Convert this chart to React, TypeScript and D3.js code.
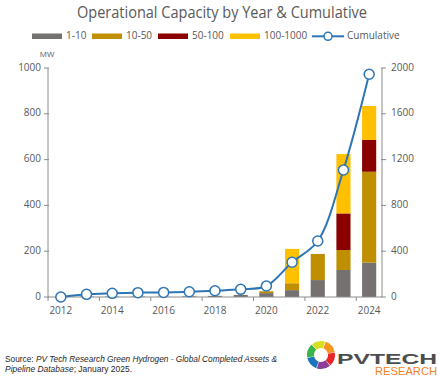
import React from "react";
import * as d3 from "d3";

const years = [2012, 2013, 2014, 2015, 2016, 2017, 2018, 2019, 2020, 2021, 2022, 2023, 2024];
const s1to10 = [0, 2, 2, 2, 1, 3, 5, 9, 17, 30, 74, 118, 150];
const s10to50 = [0, 0, 0, 0, 0, 0, 0, 0, 8, 30, 114, 87, 397];
const s50to100 = [0, 0, 0, 0, 0, 0, 0, 0, 0, 0, 0, 160, 139];
const s100to1000 = [0, 0, 0, 0, 0, 0, 0, 0, 0, 150, 0, 259, 148];
const cumulative = [0, 23, 32, 38, 40, 46, 55, 67, 96, 303, 489, 1109, 1945];
const seriesNames = ["1-10", "10-50", "50-100", "100-1000"];
const seriesColors = ["#767171", "#BF8F00", "#8B0000", "#FFC000"];
const leftTicks = [0, 200, 400, 600, 800, 1000];
const rightTicks = [0, 400, 800, 1200, 1600, 2000];
const xLabelYears = [2012, 2014, 2016, 2018, 2020, 2022, 2024];

const W = 438, H = 378;
const left = 48, right = 382, top = 68, bottom = 297;
const axisColor = "#8c8c8c";
const textColor = "#595959";
const font = "'Open Sans', sans-serif";
const lineBlue = "#2E75B6";

export default function App() {
  const x = d3.scaleBand<number>().domain(years).range([left, right]).paddingInner(0.45).paddingOuter(0.225);
  const yL = d3.scaleLinear().domain([0, 1000]).range([bottom, top]);
  const yR = d3.scaleLinear().domain([0, 2000]).range([bottom, top]);

  const table = years.map((yr, i) => ({
    year: yr,
    "1-10": s1to10[i],
    "10-50": s10to50[i],
    "50-100": s50to100[i],
    "100-1000": s100to1000[i],
  }));
  const stacked = d3.stack<any>().keys(seriesNames)(table);

  const cx = (yr: number) => (x(yr) as number) + x.bandwidth() / 2;
  const line = d3
    .line<number>()
    .x((_, i) => cx(years[i]))
    .y((d) => yR(d))
    .curve(d3.curveCatmullRom.alpha(0.5));

  const step = x.step();
  const xTicks = d3.range(0, years.length + 1, 2).map((k) => left + k * step);

  const legendItems = [
    { x: 32, label: "1-10", color: seriesColors[0] },
    { x: 92, label: "10-50", color: seriesColors[1] },
    { x: 158, label: "50-100", color: seriesColors[2] },
    { x: 230, label: "100-1000", color: seriesColors[3] },
  ];

  const logoArc = d3.arc<any>();
  const logoColors = ["#F7941D", "#E8262A", "#8E3E97", "#1C75BC", "#39B54A", "#D7DF23"];
  const logoSegs = logoColors.map((c, i) => ({
    color: c,
    path: logoArc({
      innerRadius: 7,
      outerRadius: 14,
      startAngle: (i * Math.PI * 2) / 6 + 0.35,
      endAngle: ((i + 1) * Math.PI * 2) / 6 + 0.3,
    }) as string,
  }));

  return (
    <svg width={W} height={H} style={{ display: "block", position: "absolute", left: 0, top: 0 }} fontFamily={font}>
      <rect width={W} height={H} fill="#fff" />
      <text x={222} y={18} textAnchor="middle" fontSize={16} fill={textColor} textLength={290} lengthAdjust="spacingAndGlyphs">
        Operational Capacity by Year &amp; Cumulative
      </text>

      {legendItems.map((it) => (
        <g key={it.label}>
          <rect x={it.x} y={33.5} width={30} height={5.5} fill={it.color} />
          <text x={it.x + 34} y={36.5} dominantBaseline="middle" fontSize={10} fill={textColor}>
            {it.label}
          </text>
        </g>
      ))}
      <line x1={312} x2={344} y1={36.3} y2={36.3} stroke={lineBlue} strokeWidth={2} />
      <circle cx={328} cy={36.3} r={4} fill="#fff" stroke={lineBlue} strokeWidth={1.5} />
      <text x={347} y={36.5} dominantBaseline="middle" fontSize={10} fill={textColor}>
        Cumulative
      </text>

      <text x={47} y={57} textAnchor="middle" fontSize={8} fill={textColor}>
        MW
      </text>

      {stacked.map((s, si) => (
        <g key={s.key} fill={seriesColors[si]}>
          {s.map((d, i) =>
            d[1] - d[0] > 0 ? (
              <rect
                key={i}
                x={x(years[i])}
                width={x.bandwidth()}
                y={yL(d[1])}
                height={yL(d[0]) - yL(d[1])}
              />
            ) : null
          )}
        </g>
      ))}

      <line x1={left} x2={left} y1={top} y2={bottom} stroke={axisColor} />
      <line x1={right} x2={right} y1={top} y2={bottom} stroke={axisColor} />
      <line x1={left} x2={right} y1={bottom} y2={bottom} stroke={axisColor} />
      {leftTicks.map((t) => (
        <g key={"l" + t}>
          <line x1={left - 4} x2={left + 1} y1={yL(t)} y2={yL(t)} stroke={axisColor} />
          <text x={41} y={yL(t)} textAnchor="end" dominantBaseline="middle" fontSize={10} fill={textColor}>
            {t}
          </text>
        </g>
      ))}
      {rightTicks.map((t) => (
        <g key={"r" + t}>
          <line x1={right - 1} x2={right + 4} y1={yR(t)} y2={yR(t)} stroke={axisColor} />
          <text x={391} y={yR(t)} textAnchor="start" dominantBaseline="middle" fontSize={10} fill={textColor}>
            {t}
          </text>
        </g>
      ))}
      {xTicks.map((t, i) => (
        <line key={"x" + i} x1={t} x2={t} y1={bottom} y2={bottom + 4} stroke={axisColor} />
      ))}
      {xLabelYears.map((yr) => (
        <text key={yr} x={cx(yr)} y={311} textAnchor="middle" dominantBaseline="middle" fontSize={10} fill={textColor}>
          {yr}
        </text>
      ))}

      <path d={line(cumulative) as string} fill="none" stroke={lineBlue} strokeWidth={2} />
      {cumulative.map((v, i) => (
        <circle key={i} cx={cx(years[i])} cy={yR(v)} r={5} fill="#fff" stroke={lineBlue} strokeWidth={1.5} />
      ))}

      <text x={5} y={361.5} fontSize={9} fill="#262626" fontFamily="'Liberation Sans', sans-serif" textLength={272} lengthAdjust="spacingAndGlyphs">
        Source: <tspan fontStyle="italic">PV Tech Research Green Hydrogen - Global Completed Assets &amp;</tspan>
      </text>
      <text x={5} y={372} fontSize={9} fill="#262626" fontFamily="'Liberation Sans', sans-serif" textLength={127} lengthAdjust="spacingAndGlyphs">
        <tspan fontStyle="italic">Pipeline Database</tspan>; January 2025.
      </text>

      <g transform="translate(321,355)">
        {logoSegs.map((s, i) => (
          <path key={i} d={s.path} fill={s.color} />
        ))}
      </g>
      <text x={337} y={364} fontSize={15} fontWeight="bold" fill="#4D4D4F" fontFamily="'Liberation Sans', sans-serif" textLength={100} lengthAdjust="spacingAndGlyphs">
        PVTECH
      </text>
      <text x={375} y={374.5} fontSize={11.5} fill="#F58220" fontFamily="'Liberation Sans', sans-serif" textLength={62} lengthAdjust="spacingAndGlyphs">
        RESEARCH
      </text>
    </svg>
  );
}
